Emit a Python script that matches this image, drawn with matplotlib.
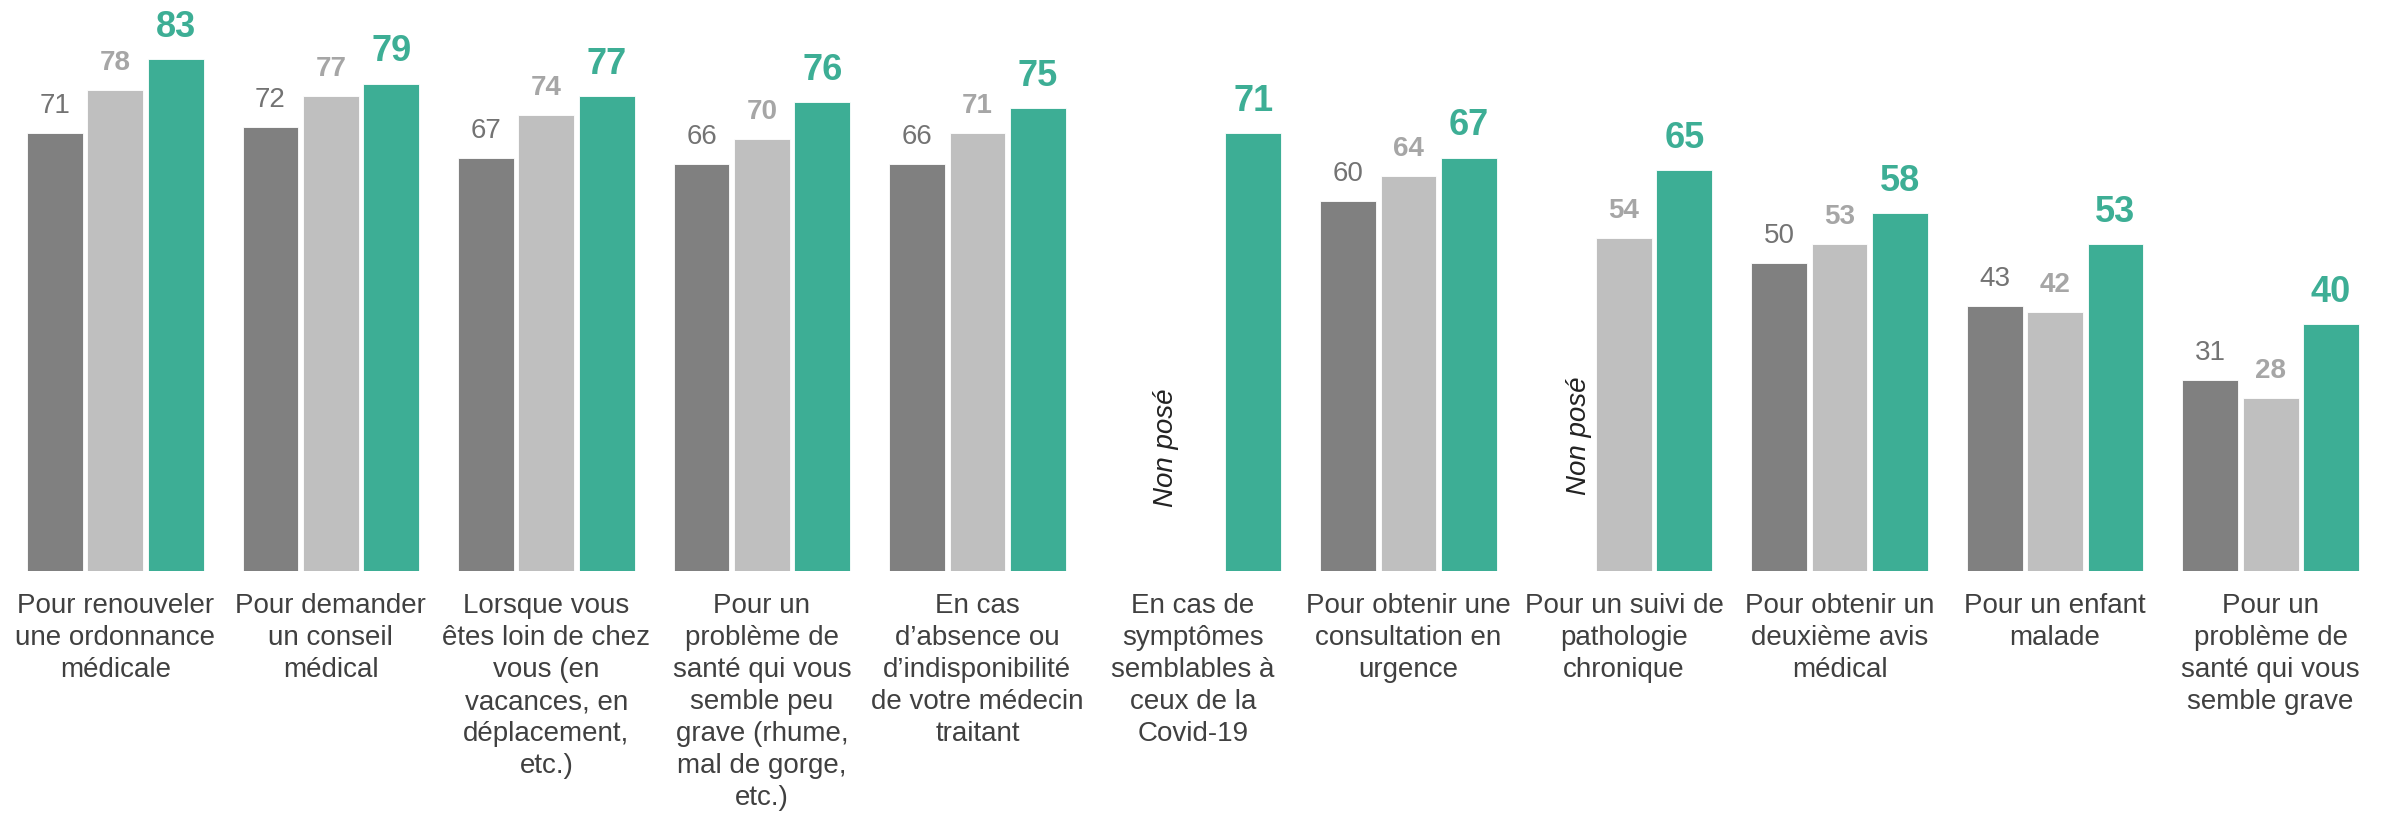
# Recours envisagé à la téléconsultation, par motif (3 vagues)

import numpy as np
import matplotlib.pyplot as plt

categories = ['Pour renouveler\nune ordonnance\nmédicale',
              'Pour demander\nun conseil\nmédical',
              'Lorsque vous\nêtes loin de chez\nvous (en\nvacances, en\ndéplacement,\netc.)',
              'Pour un\nproblème de\nsanté qui vous\nsemble peu\ngrave (rhume,\nmal de gorge,\netc.)',
              'En cas\nd’absence ou\nd’indisponibilité\nde votre médecin\ntraitant',
              'En cas de\nsymptômes\nsemblables à\nceux de la\nCovid-19',
              'Pour obtenir une\nconsultation en\nurgence',
              'Pour un suivi de\npathologie\nchronique',
              'Pour obtenir un\ndeuxième avis\nmédical',
              'Pour un enfant\nmalade',
              'Pour un\nproblème de\nsanté qui vous\nsemble grave']

vague1 = [71, 72, 67, 66, 66, np.nan, 60, np.nan, 50, 43, 31]
vague2 = [78, 77, 74, 70, 71, np.nan, 64, 54, 53, 42, 28]
vague3 = [83, 79, 77, 76, 75, 71, 67, 65, 58, 53, 40]

non_pose_text = 'Non posé'

plt.rcParams['font.family'] = ['Liberation Sans', 'DejaVu Sans']

dark = '#808080'
light = '#BFBFBF'
teal = '#3DAE95'

fig = plt.figure(figsize=(23.87, 8.15), dpi=100)
ax = fig.add_axes([0, 0.2994, 1, 0.681])

x = np.arange(len(categories))
w = 0.259
step = 0.28

series = [(vague1, dark, '#737373', 'normal', 20, 10),
          (vague2, light, '#A6A6A6', 'bold', 20, 10),
          (vague3, teal, teal, 'bold', 26, 10.5)]

for i, (vals, col, tcol, weight, fs, off) in enumerate(series):
    pos = x + (i - 1) * step
    ax.bar(pos, vals, width=w, color=col, edgecolor='white', linewidth=0.6)
    for xp, v in zip(pos, vals):
        if np.isnan(v):
            continue
        ax.annotate(str(int(v)), (xp, v), xytext=(0, off), textcoords='offset points',
                    ha='center', va='bottom', color=tcol, fontsize=fs, fontweight=weight)

# questions non posées
ax.text(x[5] - step * 0.45, 20, non_pose_text, rotation=90, style='italic',
        ha='center', va='center', fontsize=20, color='#222222')
ax.text(x[7] - step * 0.74, 22, non_pose_text, rotation=90, style='italic',
        ha='center', va='center', fontsize=20, color='#222222')

for xp, lab in zip(x, categories):
    ax.text(xp, -3.6, lab, ha='center', va='top', fontsize=20, color='#404040',
            linespacing=1.3)

ax.set_xlim(-0.535, 10.54)
ax.set_ylim(0, 90)
ax.axis('off')

fig.savefig('out.png', dpi=100)
